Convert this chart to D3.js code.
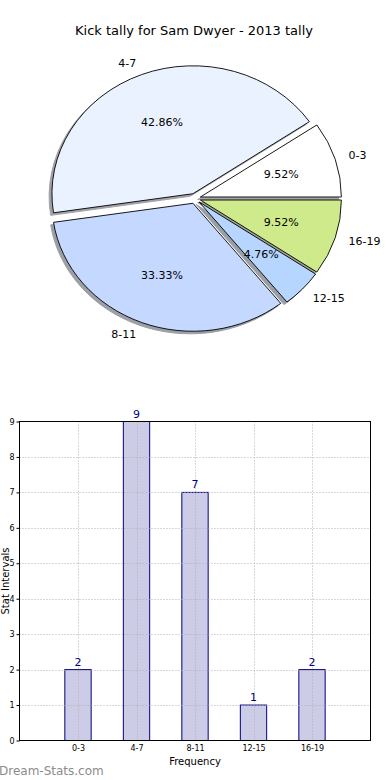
<!DOCTYPE html>
<html>
<head>
<meta charset="utf-8">
<script src="https://cdn.jsdelivr.net/npm/d3@7"></script>
<style>
  html, body { margin: 0; padding: 0; background: #fff; }
  svg { display: block; font-family: "DejaVu Sans", sans-serif; }
</style>
</head>
<body>
<script>
const title = "Kick tally for Sam Dwyer - 2013 tally";
const categories = ["0-3", "4-7", "8-11", "12-15", "16-19"];
const counts = [2, 9, 7, 1, 2];
const pieColors = ["#ffffff", "#eaf1ff", "#c5d8ff", "#b6d5ff", "#cfea8a"];
const explode = [0.04, 0.04, 0.04, 0.04, 0.04];
const yTicks = [0, 1, 2, 3, 4, 5, 6, 7, 8, 9];
const xLabel = "Frequency";
const yLabel = "Stat Intervals";
const watermark = "Dream-Stats.com";

(function () {
const W = 390, H = 780;
const svg = d3.select("body").append("svg").attr("width", W).attr("height", H);

// ---------- Title ----------
svg.append("text").attr("x", 194).attr("y", 35).attr("text-anchor", "middle")
  .attr("font-size", 13).attr("fill", "#000").text(title);

// ---------- Pie ----------
const cx = 195, cy = 198.5, rx = 141, ry = 128;
const total = d3.sum(counts);
const pie = d3.pie().sort(null).startAngle(Math.PI / 2).endAngle(Math.PI / 2 - 2 * Math.PI);
const arcs = pie(counts);
const arc = d3.arc().innerRadius(0).outerRadius(1);

function mid(d) { return (d.startAngle + d.endAngle) / 2; }
function offs(d, i) {
  const a = mid(d);
  return [cx + explode[i] * rx * Math.sin(a), cy - explode[i] * ry * Math.cos(a)];
}
function darker(c) {
  const col = d3.rgb(c);
  return d3.rgb(col.r * 0.3, col.g * 0.3, col.b * 0.3).toString();
}

const shadowG = svg.append("g");
shadowG.selectAll("path").data(arcs).join("path")
  .attr("transform", (d, i) => {
    const [px, py] = offs(d, i);
    return `translate(${px - 0.02 * rx},${py + 0.02 * ry}) scale(${rx},${ry})`;
  })
  .attr("d", arc)
  .attr("fill", (d, i) => darker(pieColors[i]))
  .attr("stroke", (d, i) => darker(pieColors[i]))
  .attr("stroke-width", 1)
  .attr("vector-effect", "non-scaling-stroke")
  .attr("opacity", 0.5);

const wedgeG = svg.append("g");
wedgeG.selectAll("path").data(arcs).join("path")
  .attr("transform", (d, i) => {
    const [px, py] = offs(d, i);
    return `translate(${px},${py}) scale(${rx},${ry})`;
  })
  .attr("d", arc)
  .attr("fill", (d, i) => pieColors[i])
  .attr("stroke", "#000")
  .attr("stroke-width", 0.9)
  .attr("stroke-linejoin", "round")
  .attr("vector-effect", "non-scaling-stroke");

// labels
const labG = svg.append("g").attr("font-size", 11).attr("fill", "#000");
arcs.forEach((d, i) => {
  const a = mid(d);
  const [x0, y0] = offs(d, i);
  const lx = x0 + 1.1 * rx * Math.sin(a);
  const ly = y0 - 1.1 * ry * Math.cos(a);
  labG.append("text").attr("x", lx).attr("y", ly).attr("dy", "0.35em")
    .attr("text-anchor", Math.sin(a) > 0 ? "start" : "end").text(categories[i]);
  const px = x0 + 0.6 * rx * Math.sin(a);
  const py = y0 - 0.6 * ry * Math.cos(a);
  labG.append("text").attr("x", px).attr("y", py).attr("dy", "0.35em")
    .attr("text-anchor", "middle").text(d3.format(".2f")(counts[i] / total * 100) + "%");
});

// ---------- Bar chart ----------
const pLeft = 19.5, pRight = 370.5, pTop = 421.5, pBottom = 740.5;
const x = d3.scaleLinear().domain([-1, 5]).range([pLeft, pRight]);
const y = d3.scaleLinear().domain([0, 9]).range([pBottom, pTop]);
const idx = categories.map((c, i) => i);
const barW = 0.45;

const bg = svg.append("g");
bg.selectAll("rect.bar").data(counts).join("rect").attr("class", "bar")
  .attr("x", (d, i) => x(i - barW / 2))
  .attr("y", d => y(d))
  .attr("width", x(barW) - x(0))
  .attr("height", d => y(0) - y(d))
  .attr("fill", "#ccccE6")
  .attr("stroke", "#000080")
  .attr("stroke-width", 1);

// grid
const grid = svg.append("g").attr("stroke", "#b0b0b0").attr("stroke-width", 1).attr("stroke-dasharray", "1,2");
grid.selectAll("line.h").data(yTicks.slice(1, -1)).join("line").attr("class", "h")
  .attr("x1", pLeft).attr("x2", pRight).attr("y1", d => Math.round(y(d)) + 0.5).attr("y2", d => Math.round(y(d)) + 0.5);
grid.selectAll("line.v").data(idx).join("line").attr("class", "v")
  .attr("x1", d => Math.round(x(d)) + 0.5).attr("x2", d => Math.round(x(d)) + 0.5)
  .attr("y1", pTop).attr("y2", pBottom);

// value labels
svg.append("g").attr("font-size", 11).attr("fill", "#000080").attr("text-anchor", "middle")
  .selectAll("text").data(counts).join("text")
  .attr("x", (d, i) => x(i)).attr("y", d => y(d) - 4).text(d => d);

// axes
const yAxis = d3.axisLeft(y).tickValues(yTicks).tickSize(3).tickPadding(2);
const yg = svg.append("g").attr("transform", `translate(${pLeft},0)`).call(yAxis);
const xAxis = d3.axisBottom(x).tickValues(idx).tickFormat((d) => categories[d]).tickSize(0).tickPadding(5);
const xg = svg.append("g").attr("transform", `translate(0,${pBottom})`).call(xAxis);
[yg, xg].forEach(g => {
  g.selectAll("text").attr("font-size", 8).attr("font-family", "DejaVu Sans, sans-serif").attr("fill", "#000");
  g.select(".domain").remove();
});

// frame
svg.append("rect").attr("x", pLeft).attr("y", pTop).attr("width", pRight - pLeft).attr("height", pBottom - pTop)
  .attr("fill", "none").attr("stroke", "#000").attr("stroke-width", 1);

svg.append("text").attr("x", (pLeft + pRight) / 2).attr("y", 765).attr("text-anchor", "middle")
  .attr("font-size", 10).attr("fill", "#000").text(xLabel);
svg.append("text").attr("transform", `translate(9,${(pTop + pBottom) / 2}) rotate(-90)`)
  .attr("text-anchor", "middle").attr("font-size", 10).attr("fill", "#000").text(yLabel);

svg.append("text").attr("x", -1).attr("y", 775).attr("font-size", 12).attr("fill", "#8c8c8c")
  .text(watermark);
})();
</script>
</body>
</html>
